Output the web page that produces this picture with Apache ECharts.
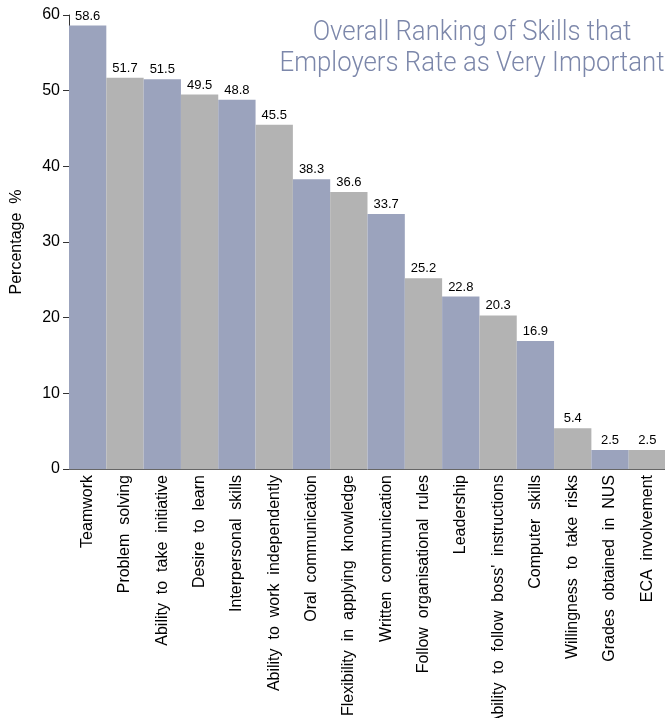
<!DOCTYPE html>
<html><head><meta charset="utf-8">
<script src="https://cdn.jsdelivr.net/npm/echarts@6/dist/echarts.min.js"></script>
<style>html,body{margin:0;padding:0;background:#fff}#c{width:665px;height:718px}</style>
</head><body><div id="c"></div>
<script>
var categories = ["Teamwork","Problem  solving","Ability  to  take  initiative","Desire  to  learn","Interpersonal  skills","Ability  to  work  independently","Oral  communication","Flexibility  in  applying  knowledge","Written  communication","Follow  organisational  rules","Leadership","Ability  to  follow  boss'  instructions","Computer  skills","Willingness  to  take  risks","Grades  obtained  in  NUS","ECA  involvement"];
var values = [58.6,51.7,51.5,49.5,48.8,45.5,38.3,36.6,33.7,25.2,22.8,20.3,16.9,5.4,2.5,2.5];
var yTicks = [0,10,20,30,40,50,60];
var titleLines = ["Overall Ranking of Skills that","Employers Rate as Very Important"];
var colors = ["#9ba3bd","#b3b3b3"];
var chart = echarts.init(document.getElementById('c'));
chart.setOption({
  animation:false,
  graphic:[
    {type:'text',x:472,y:33,scaleX:0.92,style:{text:titleLines[0],fill:"#7c87aa",font:"300 28px Roboto",textAlign:'center',textVerticalAlign:'middle'}},
    {type:'text',x:472,y:64,scaleX:0.92,style:{text:titleLines[1],fill:"#7c87aa",font:"300 28px Roboto",textAlign:'center',textVerticalAlign:'middle'}}
  ],
  grid:{left:69,top:15,width:597,height:454,outerBoundsMode:'none',containLabel:false},
  xAxis:{type:'category',data:categories,
    axisLine:{lineStyle:{color:"#666",width:1}},
    axisTick:{show:false},
    axisLabel:{rotate:90,interval:0,fontSize:16,color:"#000",fontFamily:"Liberation Sans",margin:6,hideOverlap:false}},
  yAxis:{type:'value',min:0,max:60,interval:10,
    name:"Percentage  %",nameLocation:'middle',nameGap:44,nameRotate:90,
    nameTextStyle:{fontSize:16,color:"#000",fontFamily:"Liberation Sans"},
    splitLine:{show:false},
    axisLine:{show:true,lineStyle:{color:"#333"}},
    axisTick:{show:true,length:6,lineStyle:{color:"#333"}},
    axisLabel:{fontSize:16,color:"#000",fontFamily:"Liberation Sans",margin:9,
      formatter:function(v){return yTicks.indexOf(v)>=0?String(v):'';}}},
  series:[{type:'bar',barCategoryGap:0,
    data:values.map(function(v,i){return {value:v,itemStyle:{color:colors[i%2]}};}),
    label:{show:true,position:'top',distance:3,fontSize:13,color:"#000",fontFamily:"Liberation Sans",
      formatter:function(p){return p.value.toFixed(1);}}}]
});
</script></body></html>
